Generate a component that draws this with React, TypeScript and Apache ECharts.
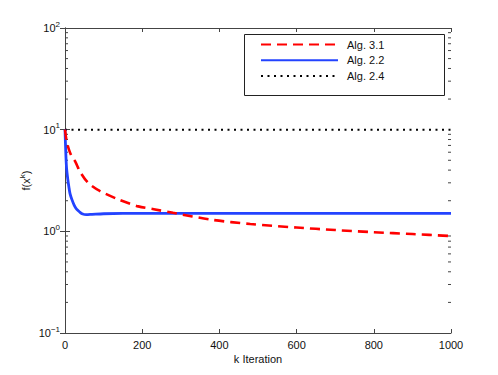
import React, { useEffect, useRef } from "react";
import * as echarts from "echarts";

const seriesNames = ["Alg. 3.1", "Alg. 2.2", "Alg. 2.4"];

const kRed = [0, 4, 10, 18, 26, 40, 60, 90, 140, 190, 230, 280, 380, 480, 600, 700, 800, 900, 1000];
const fRed = [10, 7.8, 6.4, 5.4, 4.9, 3.8, 3.0, 2.5, 2.05, 1.76, 1.65, 1.52, 1.3, 1.18, 1.09, 1.03, 0.98, 0.94, 0.9];

const kBlue = [0, 2, 4, 7, 10, 13, 18, 24, 30, 38, 46, 55, 70, 100, 150, 1000];
const fBlue = [10, 6, 4.2, 3.3, 2.75, 2.35, 2.05, 1.8, 1.65, 1.55, 1.48, 1.46, 1.47, 1.49, 1.5, 1.5];

const kBlack = [0, 1000];
const fBlack = [10, 10];

const xTicks = [0, 200, 400, 600, 800, 1000];
const yMin = 0.1;
const yMax = 100;
const minorTickValues = [
  0.2, 0.3, 0.4, 0.5, 0.6, 0.7, 0.8, 0.9,
  2, 3, 4, 5, 6, 7, 8, 9,
  20, 30, 40, 50, 60, 70, 80, 90,
];

const FONT = "Liberation Sans";
const AXIS_COLOR = "#444";

const zip = (k: number[], f: number[]) => k.map((x, i) => [x, f[i]]);

export default function App() {
  const ref = useRef<HTMLDivElement>(null);
  useEffect(() => {
    if (!ref.current) return;
    const chart = echarts.init(ref.current, null, { renderer: "svg" });
    const rich = {
      b: { fontSize: 11, fontFamily: FONT, color: "#111" },
      s: { fontSize: 8, fontFamily: FONT, color: "#111", padding: [0, 0, 8, 0] },
    };
    const option: any = {
      animation: false,
      backgroundColor: "#fff",
      grid: { left: 65, right: 47, top: 28, bottom: 42, containLabel: false },
      xAxis: [
        {
          type: "value",
          min: xTicks[0],
          max: xTicks[xTicks.length - 1],
          interval: 200,
          position: "bottom",
          name: "k Iteration",
          nameLocation: "middle",
          nameGap: 20,
          nameMoveOverlap: false,
          nameTextStyle: { fontSize: 11, fontFamily: FONT, color: "#111" },
          axisLine: { show: true, lineStyle: { color: AXIS_COLOR, width: 1 } },
          axisTick: { show: true, inside: true, length: 4, lineStyle: { color: AXIS_COLOR } },
          axisLabel: { fontSize: 11, fontFamily: FONT, color: "#111", margin: 6, formatter: (v: number) => String(v) },
          splitLine: { show: false },
        },
        {
          type: "value",
          min: xTicks[0],
          max: xTicks[xTicks.length - 1],
          interval: 200,
          position: "top",
          axisLine: { show: true, lineStyle: { color: AXIS_COLOR, width: 1 } },
          axisTick: { show: true, inside: true, length: 4, lineStyle: { color: AXIS_COLOR } },
          axisLabel: { show: false },
          splitLine: { show: false },
        },
      ],
      yAxis: [
        {
          type: "log",
          logBase: 10,
          min: yMin,
          max: yMax,
          interval: 1,
          position: "left",
          name: "f(x{s|k})",
          nameLocation: "middle",
          nameGap: 31,
          nameMoveOverlap: false,
          nameRotate: 90,
          nameTextStyle: { fontSize: 11, fontFamily: FONT, color: "#111", rich },
          axisLine: { show: true, lineStyle: { color: AXIS_COLOR, width: 1 } },
          axisTick: { show: true, inside: true, length: 5, lineStyle: { color: AXIS_COLOR } },
          axisLabel: {
            margin: 5,
            formatter: (v: number) => {
              const e = Math.round(Math.log10(v));
              return `{b|10}{s|${e < 0 ? "\u2212" + -e : e}}`;
            },
            rich,
          },
          splitLine: { show: false },
        },
        {
          type: "log",
          logBase: 10,
          min: yMin,
          max: yMax,
          interval: 1,
          position: "right",
          axisLine: { show: true, lineStyle: { color: AXIS_COLOR, width: 1 } },
          axisTick: { show: true, inside: true, length: 5, lineStyle: { color: AXIS_COLOR } },
          axisLabel: { show: false },
          splitLine: { show: false },
        },
      ],
      legend: {
        data: seriesNames,
        orient: "vertical",
        left: 260,
        top: 39,
        padding: 0,
        itemWidth: 77,
        itemHeight: 14,
        itemGap: 4.5,
        z: 20,
        itemStyle: { opacity: 0 },
        lineStyle: { opacity: 1 },
        textStyle: { fontSize: 11, fontFamily: FONT, color: "#111", padding: [0, 0, 0, 4] },
      },
      graphic: [
        {
          type: "rect",
          shape: { x: 244.5, y: 34.5, width: 200, height: 61 },
          style: { fill: "#fff", stroke: "#222", lineWidth: 1 },
          z: 10,
          silent: true,
        },
      ],
      series: [
        {
          name: seriesNames[0],
          type: "line",
          data: zip(kRed, fRed),
          symbol: "none",
          smooth: 0.3,
          lineStyle: { color: "#ff0000", width: 2.6, type: [10, 6] },
          itemStyle: { color: "#ff0000" },
          z: 3,
        },
        {
          name: seriesNames[1],
          type: "line",
          data: zip(kBlue, fBlue),
          symbol: "none",
          smooth: 0.3,
          lineStyle: { color: "#2343ff", width: 2.8, type: "solid" },
          itemStyle: { color: "#2343ff" },
          z: 2,
        },
        {
          name: seriesNames[2],
          type: "line",
          data: zip(kBlack, fBlack),
          symbol: "none",
          lineStyle: { color: "#000", width: 2, type: [2, 4.5] },
          itemStyle: { color: "#000" },
          z: 1,
        },
        {
          type: "custom",
          silent: true,
          clip: false,
          data: minorTickValues.map((v) => [0, v]),
          renderItem: (params: any, api: any) => {
            const v = api.value(1);
            const y = api.coord([0, v])[1];
            const cs = params.coordSys;
            const len = 3;
            return {
              type: "group",
              children: [
                {
                  type: "line",
                  shape: { x1: cs.x, y1: y, x2: cs.x + len, y2: y },
                  style: { stroke: AXIS_COLOR, lineWidth: 1 },
                },
                {
                  type: "line",
                  shape: { x1: cs.x + cs.width - len, y1: y, x2: cs.x + cs.width, y2: y },
                  style: { stroke: AXIS_COLOR, lineWidth: 1 },
                },
              ],
            };
          },
        },
      ],
    };
    chart.setOption(option);
    return () => chart.dispose();
  }, []);
  return <div ref={ref} style={{ width: 498, height: 375, position: "absolute", left: 0, top: 0 }} />;
}
